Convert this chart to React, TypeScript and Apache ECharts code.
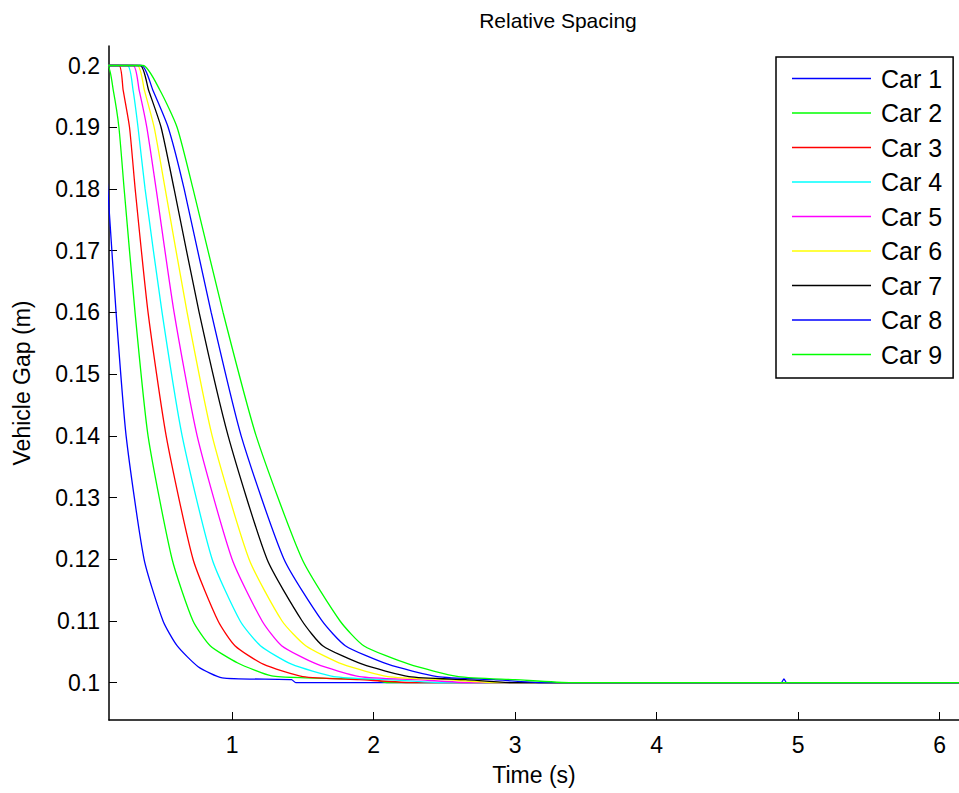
import React, { useEffect, useRef } from "react";
import * as echarts from "echarts";

const carNames = ["Car 1", "Car 2", "Car 3", "Car 4", "Car 5", "Car 6", "Car 7", "Car 8", "Car 9"];
const carColors = ["#0000ff", "#00ff00", "#ff0000", "#00ffff", "#ff00ff", "#ffff00", "#000000", "#0000ff", "#00ff00"];

const xTicks = [1, 2, 3, 4, 5, 6];
const yTicks = [0.1, 0.11, 0.12, 0.13, 0.14, 0.15, 0.16, 0.17, 0.18, 0.19, 0.2];

// [time (s), gap (m)]
const car1: number[][] = [[0, 0.2], [0.05, 0.197], [0.1, 0.187], [0.13, 0.177], [0.18, 0.16], [0.251, 0.14], [0.378, 0.12], [0.512, 0.11], [0.611, 0.106], [0.76, 0.1026], [0.93, 0.1008], [1.42, 0.1005], [1.45, 0.1], [6.5, 0.1]];
const car2: number[][] = [[0, 0.2], [0.12, 0.2], [0.16, 0.196], [0.2, 0.19], [0.237, 0.18], [0.314, 0.16], [0.406, 0.14], [0.576, 0.12], [0.724, 0.11], [0.845, 0.106], [1.04, 0.1032], [1.28, 0.1011], [1.52, 0.1008], [2.0, 0.1005], [2.1, 0.1], [6.5, 0.1]];
const car3: number[][] = [[0, 0.2], [0.2, 0.2], [0.23, 0.196], [0.275, 0.19], [0.315, 0.18], [0.406, 0.16], [0.534, 0.14], [0.724, 0.12], [0.901, 0.11], [1.02, 0.106], [1.22, 0.103], [1.5, 0.101], [1.9, 0.1005], [2.3, 0.1], [6.5, 0.1]];
const car4: number[][] = [[0, 0.2], [0.26, 0.2], [0.3, 0.196], [0.335, 0.19], [0.385, 0.18], [0.505, 0.16], [0.647, 0.14], [0.859, 0.12], [1.057, 0.11], [1.2, 0.106], [1.42, 0.103], [1.72, 0.101], [2.1, 0.1005], [2.5, 0.1], [6.5, 0.1]];
const car5: number[][] = [[0, 0.2], [0.3, 0.2], [0.343, 0.196], [0.397, 0.19], [0.463, 0.18], [0.59, 0.16], [0.753, 0.14], [1.0, 0.12], [1.212, 0.11], [1.35, 0.106], [1.6, 0.103], [1.9, 0.101], [2.3, 0.1005], [2.7, 0.1], [6.5, 0.1]];
const car6: number[][] = [[0, 0.2], [0.33, 0.2], [0.38, 0.196], [0.449, 0.19], [0.527, 0.18], [0.682, 0.16], [0.859, 0.14], [1.12, 0.12], [1.353, 0.11], [1.52, 0.106], [1.78, 0.103], [2.1, 0.101], [2.5, 0.1005], [2.9, 0.1], [6.5, 0.1]];
const car7: number[][] = [[0, 0.2], [0.35, 0.2], [0.41, 0.196], [0.498, 0.19], [0.59, 0.18], [0.767, 0.16], [0.972, 0.14], [1.247, 0.12], [1.495, 0.11], [1.64, 0.106], [1.92, 0.103], [2.25, 0.101], [2.65, 0.1005], [3.0, 0.1], [6.5, 0.1]];
const car8: number[][] = [[0, 0.2], [0.36, 0.2], [0.44, 0.196], [0.548, 0.19], [0.661, 0.18], [0.852, 0.16], [1.064, 0.14], [1.367, 0.12], [1.636, 0.11], [1.8, 0.106], [2.1, 0.103], [2.45, 0.101], [2.85, 0.1005], [3.2, 0.1], [4.88, 0.1], [4.9, 0.1006], [4.92, 0.1], [6.5, 0.1]];
const car9: number[][] = [[0, 0.2], [0.37, 0.2], [0.49, 0.196], [0.611, 0.19], [0.724, 0.18], [0.936, 0.16], [1.17, 0.14], [1.495, 0.12], [1.763, 0.11], [1.93, 0.106], [2.25, 0.103], [2.6, 0.101], [3.0, 0.1005], [3.4, 0.1], [6.5, 0.1]];

const carData = [car1, car2, car3, car4, car5, car6, car7, car8, car9];

const FONT = "Liberation Sans, Arial, Helvetica, sans-serif";

export default function App() {
  const ref = useRef<HTMLDivElement>(null);
  useEffect(() => {
    if (!ref.current) return;
    const chart = echarts.init(ref.current, null, { renderer: "svg" });
    chart.setOption({
      animation: false,
      color: carColors,
      textStyle: { fontFamily: FONT },
      title: {
        text: "Relative Spacing",
        left: 553,
        top: 5,
        textAlign: "center",
        textStyle: { fontFamily: FONT, fontSize: 21, fontWeight: "normal", color: "#000" },
      },
      graphic: [
        {
          type: "text",
          x: 534,
          y: 775,
          style: { text: "Time (s)", fontFamily: FONT, fontSize: 23, fill: "#000", align: "center", verticalAlign: "middle" },
        },
      ],
      grid: { left: 109, top: 46, bottom: 73, right: 0, containLabel: false },
      legend: {
        orient: "vertical",
        left: 776,
        top: 57,
        padding: [9, 11, 11, 16],
        itemGap: 9.5,
        itemWidth: 79,
        itemHeight: 1.5,
        icon: "rect",
        borderColor: "#000",
        borderWidth: 1.5,
        backgroundColor: "#fff",
        textStyle: { fontFamily: FONT, fontSize: 25, color: "#000", lineHeight: 24, padding: [0, 0, 0, 5] },
        data: carNames,
      },
      xAxis: {
        type: "value",
        min: 0.13,
        max: 6.42,
        axisLine: { show: true, onZero: false, lineStyle: { color: "#000", width: 1.5 } },
        axisTick: { show: true, inside: true, length: 8, customValues: xTicks, lineStyle: { color: "#000", width: 1 } },
        axisLabel: { customValues: xTicks, fontFamily: FONT, fontSize: 23, color: "#000", margin: 13 },
        splitLine: { show: false },
      },
      yAxis: {
        type: "value",
        min: 0.09396,
        max: 0.20316,
        name: "Vehicle Gap (m)",
        nameLocation: "middle",
        nameGap: 76,
        nameTextStyle: { fontFamily: FONT, fontSize: 23, color: "#000" },
        axisLine: { show: true, onZero: false, lineStyle: { color: "#000", width: 1.5 } },
        axisTick: { show: true, inside: true, length: 8, customValues: yTicks, lineStyle: { color: "#000", width: 1 } },
        axisLabel: {
          customValues: yTicks,
          fontFamily: FONT,
          fontSize: 23,
          color: "#000",
          margin: 9,
          formatter: (v: number) => String(Math.round(v * 100) / 100),
        },
        splitLine: { show: false },
      },
      series: carData.map((d, i) => ({
        name: carNames[i],
        type: "line",
        data: d,
        showSymbol: false,
        smooth: 0.2,
        clip: true,
        color: carColors[i],
        lineStyle: { color: carColors[i], width: 1.3 },
        itemStyle: { color: carColors[i] },
      })),
    });
    return () => chart.dispose();
  }, []);
  return (
    <div style={{ position: "fixed", left: 0, top: 0, width: 959, height: 793, overflow: "hidden", background: "#fff" }}>
      <div ref={ref} style={{ width: 999, height: 793 }} />
    </div>
  );
}
